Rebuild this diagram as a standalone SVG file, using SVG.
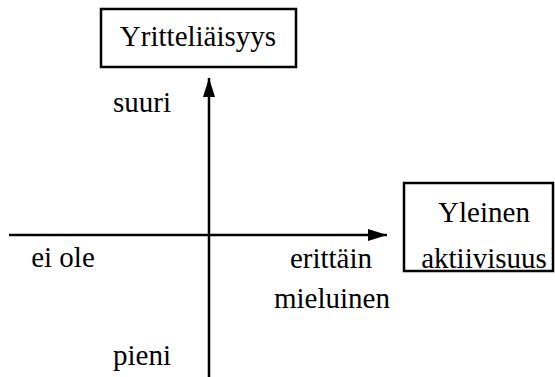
<svg xmlns="http://www.w3.org/2000/svg" width="555" height="377" viewBox="0 0 555 377">
<style>
text{font-size:29px;fill:#000;text-anchor:middle}
.box{fill:#fff;stroke:#000;stroke-width:2.5}
.axis{stroke:#000;stroke-width:2.5;fill:none}
</style>
<defs>
<marker id="arr" markerUnits="userSpaceOnUse" markerWidth="20" markerHeight="12" refX="19" refY="6" orient="auto">
<path d="M0,0 L19,6 L0,12 Z" fill="#000"/>
</marker>
</defs>
<g id="connectors">
<line class="axis" x1="209" y1="377" x2="209" y2="78" marker-end="url(#arr)"/>
<line class="axis" x1="9" y1="235" x2="387" y2="235" marker-end="url(#arr)"/>
</g>
<g id="yritteliaisyys">
<rect class="box" x="101" y="9" width="195" height="58"/>
<text x="198" y="46" font-family="Times New Roman">Yritteliäisyys</text>
</g>
<g id="yleinen-aktiivisuus">
<rect class="box" x="404" y="183" width="149" height="88"/>
<text x="484" y="222" font-family="Times New Roman">Yleinen</text>
<text x="484" y="268" font-family="Times New Roman">aktiivisuus</text>
</g>
<g id="labels">
<text x="142" y="112" font-family="Times New Roman">suuri</text>
<text x="63" y="267" font-family="Times New Roman">ei ole</text>
<text x="331" y="268" font-family="Times New Roman">erittäin</text>
<text x="332" y="308" font-family="Times New Roman">mieluinen</text>
<text x="142" y="365" font-family="Times New Roman">pieni</text>
</g>
</svg>
